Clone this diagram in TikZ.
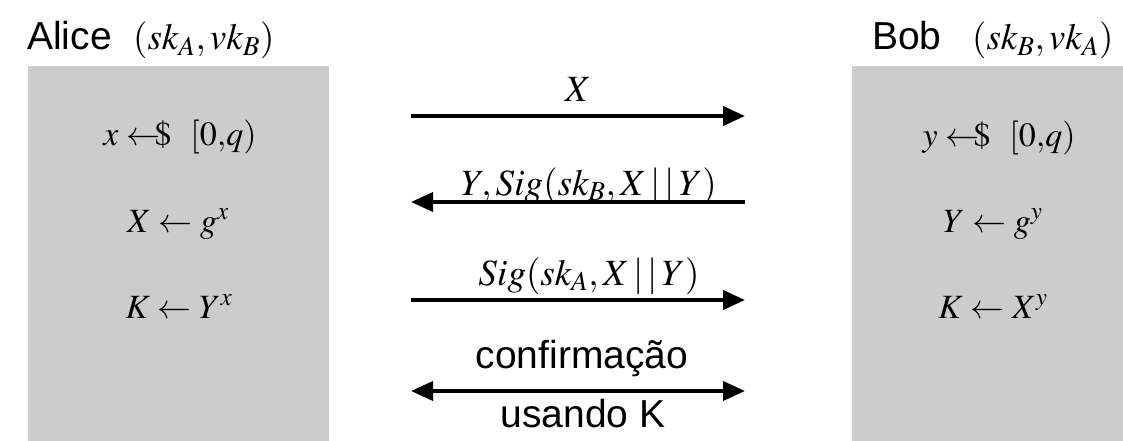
\documentclass[tikz,border=0pt]{standalone}
\usepackage{fontspec}
\usepackage{mathptmx}
\setmainfont{Liberation Sans}
\usetikzlibrary{arrows.meta}
\definecolor{boxgray}{HTML}{CCCCCC}
\tikzset{
  party/.style={fill=boxgray, draw=none},
  msg/.style={line width=3.8pt, -{Triangle[length=22pt,width=19pt]}},
  msgboth/.style={line width=3.8pt, {Triangle[length=22pt,width=19pt]}-{Triangle[length=22pt,width=19pt]}},
  big/.style={font=\fontsize{34}{40}\selectfont, inner sep=0pt, anchor=base},
  lab/.style={font=\fontsize{37}{44}\selectfont, inner sep=0pt, anchor=base},
  sans/.style={font=\fontsize{39}{46}\selectfont, inner sep=0pt, anchor=base},
}
\newcommand{\samp}{\leftarrow\mkern-7mu\$}
\newcommand{\cat}{\,|\,|\,}
\begin{document}
\begin{tikzpicture}[x=1pt,y=-1pt]
\useasboundingbox (0,0) rectangle (1123,441);
% boxes
\fill[party] (28,66) rectangle (329,441);
\fill[party] (852,66) rectangle (1123,441);
% headers
\node[sans, anchor=base west] (alice) at (27,50) {Alice};
\node[lab, anchor=base west] (alicekeys) at (133,50) {$(sk_A, vk_B)$};
\node[sans, anchor=base west] (bob) at (872,50) {Bob};
\node[lab, anchor=base west] (bobkeys) at (972,50) {$(sk_B, vk_A)$};
% Alice computations
\node[big] (a1) at (180,145) {$x \samp\ \ [0{,}q)$};
\node[big] (a2) at (178,232) {$X \leftarrow g^{x}$};
\node[big] (a3) at (179,318) {$K \leftarrow Y^{x}$};
% Bob computations
\node[big] (b1) at (999,146) {$y \samp\ \ [0{,}q)$};
\node[big] (b2) at (993,232) {$Y \leftarrow g^{y}$};
\node[big] (b3) at (993,318) {$K \leftarrow X^{y}$};
% arrow endpoints
\coordinate (l1) at (411,116); \coordinate (r1) at (745,116);
\coordinate (l2) at (411,202); \coordinate (r2) at (745,202);
\coordinate (l3) at (411,300); \coordinate (r3) at (745,300);
\coordinate (l4) at (411,391); \coordinate (r4) at (745,391);
\draw[msg] (l1) -- (r1);
\draw[msg] (r2) -- (l2);
\draw[msg] (l3) -- (r3);
\draw[msgboth] (l4) -- (r4);
% labels
\node[lab] (m1) at (578,102) {$X$};
\node[lab] (m2) at (589,195) {$Y, Sig(sk_B, X\cat Y)$};
\node[lab] (m3) at (589,285) {$Sig(sk_A, X\cat Y)$};
\node[sans] (m4) at (582,368) {confirmação};
\node[sans] (m5) at (583,427) {usando K};
\end{tikzpicture}
\end{document}
